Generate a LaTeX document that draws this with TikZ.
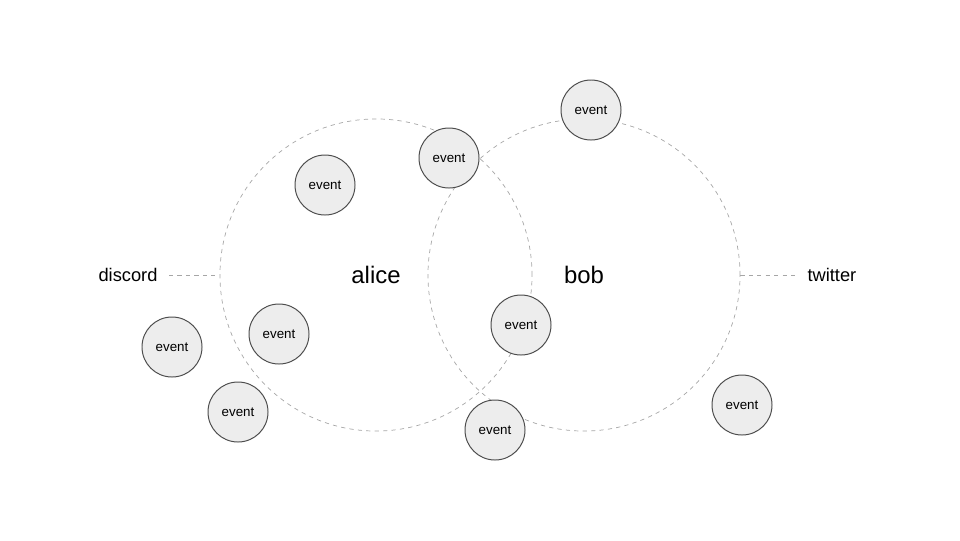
\documentclass[tikz,border=0pt]{standalone}
\usepackage{fontspec}
\setmainfont{Liberation Sans}
\usepackage{tikz}
\tikzstyle{every node}=[inner sep=0pt]
\tikzstyle{group}=[circle,draw=black!35,dashed,line width=0.5pt,minimum size=7.8cm]
\tikzstyle{event}=[circle,draw=black!70,fill=black!7,line width=0.7pt,minimum size=1.5cm,font=\fontsize{9.5}{11}\selectfont]
\tikzstyle{app}=[inner sep=8pt,font=\fontsize{13}{15}\selectfont]
\tikzstyle{link}=[draw=black!35,dashed,line width=0.5pt]
\begin{document}
\begin{tikzpicture}[x=0.025cm,y=-0.025cm]
\useasboundingbox (0,0) rectangle (960,540);
% the two people
\node[group] (alice) at (376,275) {};
\node[group] (bob) at (584,275) {};
\node[font=\fontsize{17}{20}\selectfont] (alicename) at (376,275) {alice};
\node[font=\fontsize{17}{20}\selectfont] (bobname) at (584,275) {bob};
% the apps
\node[app,anchor=east] (discord) at (169,275) {discord};
\node[app,anchor=west] (twitter) at (796,275) {twitter};
\draw[link] (discord) -- (alice);
\draw[link] (bob) -- (twitter);
% the events
\node[event] (e1) at (325,185) {event};
\node[event] (e2) at (449,158) {event};
\node[event] (e3) at (591,110) {event};
\node[event] (e4) at (279,334) {event};
\node[event] (e5) at (172,347) {event};
\node[event] (e6) at (238,412) {event};
\node[event] (e7) at (521,325) {event};
\node[event] (e8) at (495,430) {event};
\node[event] (e9) at (742,405) {event};
\end{tikzpicture}
\end{document}
